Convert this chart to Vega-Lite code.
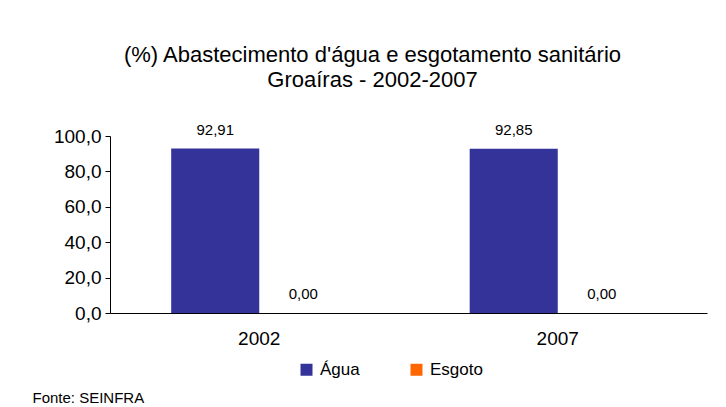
{
  "$schema": "https://vega.github.io/schema/vega-lite/v6.json",
  "autosize": "none",
  "width": 597,
  "height": 177,
  "padding": {"left": 110, "top": 136, "right": 19, "bottom": 94},
  "background": "white",
  "config": {
    "locale": {"number": {"decimal": ",", "thousands": ".", "grouping": [3], "currency": ["R$", ""]}},
    "font": "Liberation Sans",
    "view": {"stroke": null}
  },
  "title": {
    "text": ["(%) Abastecimento d'água e esgotamento sanitário", "Groaíras - 2002-2007"],
    "fontSize": 22,
    "fontWeight": "normal",
    "font": "Liberation Sans",
    "color": "#000000",
    "lineHeight": 25,
    "anchor": "middle",
    "dx": -36,
    "offset": 31
  },
  "data": {
    "values": [
      {"ano": "2002", "serie": "Água", "valor": 92.91},
      {"ano": "2002", "serie": "Esgoto", "valor": 0.0},
      {"ano": "2007", "serie": "Água", "valor": 92.85},
      {"ano": "2007", "serie": "Esgoto", "valor": 0.0}
    ]
  },
  "encoding": {
    "x": {
      "field": "ano",
      "type": "nominal",
      "scale": {"paddingInner": 0.41, "paddingOuter": 0.205},
      "axis": {
        "title": "Fonte: SEINFRA",
        "titleFont": "Liberation Sans",
        "titleFontSize": 15,
        "titleFontWeight": "normal",
        "titleColor": "#000000",
        "titleAlign": "left",
        "titleBaseline": "middle",
        "titleAnchor": "start",
        "titleX": -78,
        "titleY": 84,
        "labelAngle": 0,
        "labelFontSize": 19,
        "labelColor": "#000000",
        "labelPadding": 16,
        "ticks": false,
        "domainColor": "#000000",
        "domainWidth": 1
      }
    },
    "xOffset": {"field": "serie", "type": "nominal", "sort": ["Água", "Esgoto"], "scale": {"paddingInner": 0, "paddingOuter": 0}},
    "y": {
      "field": "valor",
      "type": "quantitative",
      "scale": {"domain": [0, 100], "nice": false},
      "axis": {
        "title": null,
        "values": [0, 20, 40, 60, 80, 100],
        "format": ".1f",
        "grid": false,
        "labelFontSize": 19,
        "labelColor": "#000000",
        "labelPadding": 4,
        "tickSize": 5,
        "tickColor": "#000000",
        "domainColor": "#000000"
      }
    }
  },
  "layer": [
    {
      "mark": {"type": "bar"},
      "encoding": {
        "color": {
          "field": "serie",
          "type": "nominal",
          "scale": {"domain": ["Água", "Esgoto"], "range": ["#333399", "#FF6600"]},
          "legend": {
            "title": null,
            "orient": "none",
            "direction": "horizontal",
            "legendX": 188,
            "legendY": 225,
            "symbolType": "square",
            "symbolSize": 144,
            "symbolStrokeWidth": 0,
            "labelFontSize": 17,
            "labelColor": "#000000",
            "labelOffset": 5,
            "columnPadding": 48,
            "padding": 0
          }
        }
      }
    },
    {
      "mark": {"type": "text", "baseline": "bottom", "dy": -11, "fontSize": 15, "color": "#000000"},
      "encoding": {
        "text": {"field": "valor", "type": "quantitative", "format": ".2f"}
      }
    }
  ]
}
